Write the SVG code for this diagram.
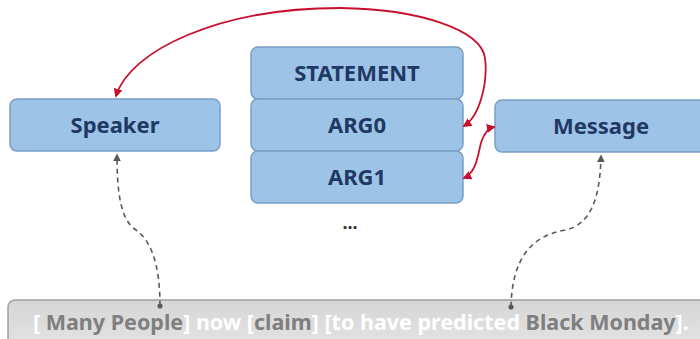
<svg xmlns="http://www.w3.org/2000/svg" width="700" height="339" viewBox="0 0 700 339">
<defs>
<style>
.box{fill:#9dc3e6;stroke:#7a9ec4;stroke-width:1.5}
.lbl{font-family:"Noto Sans","Open Sans",sans-serif;font-weight:bold;font-size:22px;fill:#1f3864;text-anchor:middle}
.red{fill:none;stroke:#c8102e;stroke-width:1.8}
.dash{fill:none;stroke:#595959;stroke-width:1.6;stroke-dasharray:5 4}
.g{fill:#7f7f7f}
.w{fill:#ffffff}
</style>
<linearGradient id="bar" x1="0" y1="0" x2="0" y2="1"><stop offset="0" stop-color="#d6d6d6"/><stop offset="1" stop-color="#e4e4e4"/></linearGradient>
<marker id="ra" viewBox="0 0 10 10" refX="8" refY="5" markerWidth="5" markerHeight="5" orient="auto-start-reverse"><path d="M0,0 L10,5 L0,10 z" fill="#c8102e"/></marker>
<marker id="ga" viewBox="0 0 10 10" refX="8" refY="5" markerWidth="5" markerHeight="5" orient="auto"><path d="M0,0 L10,5 L0,10 z" fill="#595959"/></marker>
<marker id="gd" viewBox="0 0 10 10" refX="5" refY="5" markerWidth="4" markerHeight="4"><circle cx="5" cy="5" r="4" fill="#595959"/></marker>
</defs>
<rect width="700" height="339" fill="#ffffff"/>
<g id="speaker"><rect class="box" x="10" y="99" width="210" height="52" rx="7"/><text class="lbl" x="115" y="133">Speaker</text></g>
<g id="statement"><rect class="box" x="251" y="47" width="212" height="52" rx="7"/><text class="lbl" x="357" y="81">STATEMENT</text></g>
<g id="arg0"><rect class="box" x="251" y="99" width="212" height="52" rx="7"/><text class="lbl" x="357" y="133">ARG0</text></g>
<g id="arg1"><rect class="box" x="251" y="151" width="212" height="52" rx="7"/><text class="lbl" x="357" y="185">ARG1</text></g>
<g id="message"><rect class="box" x="495" y="100" width="215" height="52" rx="7"/><text class="lbl" x="601" y="134">Message</text></g>
<g id="ellipsis"><text x="350" y="229" font-family="Noto Sans,sans-serif" font-size="18" font-weight="bold" fill="#333" text-anchor="middle">...</text></g>
<g id="sentence">
<rect x="8" y="300" width="710" height="50" rx="7" fill="url(#bar)" stroke="#a0a0a0" stroke-width="1.5"/>
<text x="33" y="330" font-family="Noto Sans,sans-serif" font-weight="bold" font-size="21.5"><tspan class="w">[ </tspan><tspan class="g">Many People</tspan><tspan class="w">] now [</tspan><tspan class="g">claim</tspan><tspan class="w">] [to have predicted </tspan><tspan class="g">Black Monday</tspan><tspan class="w">].</tspan></text>
</g>
<g id="connectors">
<path class="red" marker-start="url(#ra)" marker-end="url(#ra)" d="M464,126 C480,116 488,82 485,58 C481,30 420,9 340,8 C220,8 130,50 116,96"/>
<path class="red" marker-start="url(#ra)" marker-end="url(#ra)" d="M464,178 C478,172 478,150 482,140 C485,132 489,128 494,127"/>
<path class="dash" marker-start="url(#gd)" marker-end="url(#ga)" d="M160,306 C160,262 150,240 136,230 C120,220 117,190 117,155"/>
<path class="dash" marker-start="url(#gd)" marker-end="url(#ga)" d="M511,307 C512,260 530,236 565,230 C590,225 600,200 601,156"/>
</g>
</svg>
